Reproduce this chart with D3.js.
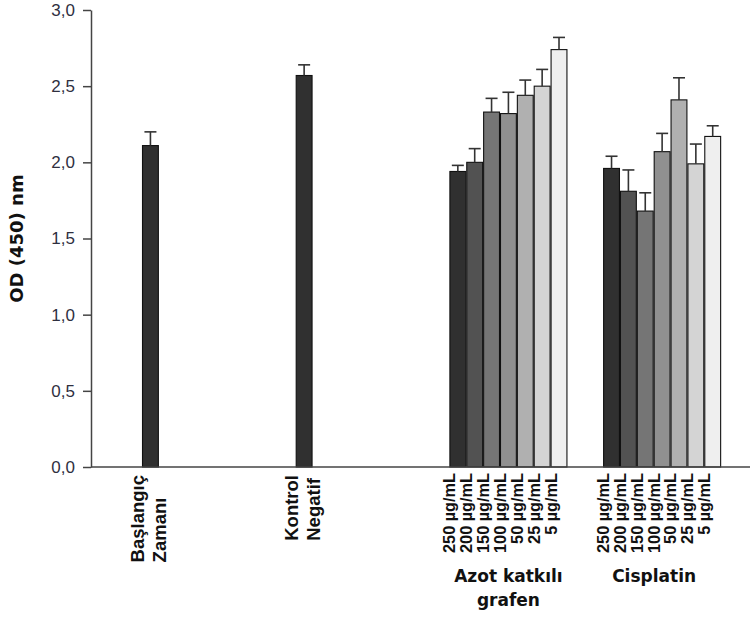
<!DOCTYPE html>
<html>
<head>
<meta charset="utf-8">
<script src="https://cdn.jsdelivr.net/npm/d3@7"></script>
<style>
  html, body { margin: 0; padding: 0; background: #fff; }
  svg { display: block; }
</style>
</head>
<body>
<svg id="chart" width="750" height="618"></svg>
<script>
// ---- data ----
const groups = ["Başlangıç Zamanı", "Kontrol Negatif", "Azot katkılı grafen", "Cisplatin"];
const groupLines = [["Başlangıç", "Zamanı"], ["Kontrol", "Negatif"], ["Azot katkılı", "grafen"], ["Cisplatin"]];
const concentrations = ["250 µg/mL", "200 µg/mL", "150 µg/mL", "100 µg/mL", "50 µg/mL", "25 µg/mL", "5 µg/mL"];
const baslangicValue = [2.11];
const baslangicErr = [0.09];
const kontrolValue = [2.57];
const kontrolErr = [0.07];
const azotValues = [1.94, 2.00, 2.33, 2.32, 2.44, 2.50, 2.74];
const azotErr = [0.04, 0.09, 0.09, 0.14, 0.10, 0.11, 0.08];
const cisplatinValues = [1.96, 1.81, 1.68, 2.07, 2.41, 1.99, 2.17];
const cisplatinErr = [0.08, 0.14, 0.12, 0.12, 0.145, 0.13, 0.07];
const yTicks = [0, 0.5, 1.0, 1.5, 2.0, 2.5, 3.0];
const shades = ["#303030", "#525252", "#757575", "#909090", "#b0b0b0", "#d4d4d4", "#efefef"];

// ---- build rows ----
const rows = [];
rows.push({ g: groups[0], i: 0, v: baslangicValue[0], e: baslangicErr[0], fill: shades[0] });
rows.push({ g: groups[1], i: 0, v: kontrolValue[0], e: kontrolErr[0], fill: shades[0] });
azotValues.forEach((v, i) => rows.push({ g: groups[2], i, v, e: azotErr[i], fill: shades[i], c: concentrations[i] }));
cisplatinValues.forEach((v, i) => rows.push({ g: groups[3], i, v, e: cisplatinErr[i], fill: shades[i], c: concentrations[i] }));

const svg = d3.select("#chart");
const axisX0 = 91, axisX1 = 750;

const y = d3.scaleLinear().domain([0, 3]).range([467, 10]);
const x = d3.scaleBand().domain(groups).range([142, 142 + 4 * 153.7]).paddingInner(0).paddingOuter(0);
const inner = d3.scaleBand().domain(d3.range(7)).range([0, x.bandwidth() * 0.768]).padding(0);
const bw = inner.bandwidth();
const cx = d => x(d.g) + inner(d.i) + bw / 2;

// bars
svg.append("g").selectAll("rect").data(rows).join("rect")
  .attr("x", d => x(d.g) + inner(d.i) + 0.5)
  .attr("y", d => y(d.v))
  .attr("width", bw - 1)
  .attr("height", d => y(0) - y(d.v))
  .attr("fill", d => d.fill)
  .attr("stroke", "#111")
  .attr("stroke-width", 1.1);

// error bars (upper only)
const eb = svg.append("g").attr("stroke", "#333").attr("stroke-width", 1.6).attr("fill", "none");
eb.selectAll("line.v").data(rows).join("line").attr("class", "v")
  .attr("x1", cx).attr("x2", cx)
  .attr("y1", d => y(d.v)).attr("y2", d => y(d.v + d.e));
eb.selectAll("line.c").data(rows).join("line").attr("class", "c")
  .attr("x1", d => cx(d) - 6).attr("x2", d => cx(d) + 6)
  .attr("y1", d => y(d.v + d.e)).attr("y2", d => y(d.v + d.e));

// y axis
const yAxis = d3.axisLeft(y).tickValues(yTicks).tickSize(8).tickSizeOuter(0).tickPadding(8)
  .tickFormat(d => d3.format(".1f")(d).replace(".", ","));
const yg = svg.append("g").attr("transform", `translate(${axisX0},0)`).call(yAxis);
yg.select(".domain").attr("stroke", "#444").attr("stroke-width", 1.5);
yg.selectAll(".tick line").attr("stroke", "#444").attr("stroke-width", 1.5);
yg.selectAll(".tick text").attr("font-family", "'Liberation Sans', Arial, sans-serif")
  .attr("font-size", 17).attr("fill", "#2f2f3f");

// x axis line
svg.append("line").attr("x1", axisX0).attr("x2", axisX1)
  .attr("y1", y(0)).attr("y2", y(0)).attr("stroke", "#444").attr("stroke-width", 1.5);

// y title
svg.append("text")
  .attr("transform", `translate(23,${(y(0) + y(3)) / 2}) rotate(-90)`)
  .attr("text-anchor", "middle")
  .attr("font-family", "'DejaVu Sans', Verdana, sans-serif")
  .attr("font-weight", "bold").attr("font-size", 18).attr("fill", "#111")
  .text("OD (450) nm");

// concentration labels
svg.append("g").selectAll("text").data(rows.filter(d => d.c)).join("text")
  .attr("transform", d => `translate(${cx(d)},473) rotate(-90)`)
  .attr("text-anchor", "end").attr("x", 0).attr("y", -2.5)
  .attr("font-family", "'Liberation Sans', Arial, sans-serif")
  .attr("font-weight", "bold").attr("font-size", 16.3).attr("fill", "#111")
  .text(d => d.c);

// rotated single-bar category labels
[0, 1].forEach(k => {
  const d = rows[k];
  const g = svg.append("g").attr("transform", `translate(${cx(d)},475) rotate(-90)`);
  const lines = groupLines[k];
  const ts = lines.map((t, j) => g.append("text")
    .attr("y", j === 0 ? -6 : 16)
    .attr("text-anchor", "start")
    .attr("font-family", "'Liberation Sans', Arial, sans-serif")
    .attr("font-weight", "bold").attr("font-size", 18.5).attr("fill", "#111")
    .text(t));
  const maxLen = d3.max(ts, t => t.node().getComputedTextLength());
  ts.forEach(t => t.attr("x", -maxLen));
});

// horizontal group labels
const groupCenter = g => x(g) + inner.range()[1] / 2;
[2, 3].forEach(k => {
  const lines = groupLines[k];
  const dx = k === 3 ? -8 : 0;
  lines.forEach((t, j) => svg.append("text")
    .attr("x", groupCenter(groups[k]) + dx)
    .attr("y", 582 + j * 23.5)
    .attr("text-anchor", "middle")
    .attr("font-family", "'DejaVu Sans', Verdana, sans-serif")
    .attr("font-weight", "bold").attr("font-size", 17).attr("fill", "#111")
    .text(t));
});
</script>
</body>
</html>
